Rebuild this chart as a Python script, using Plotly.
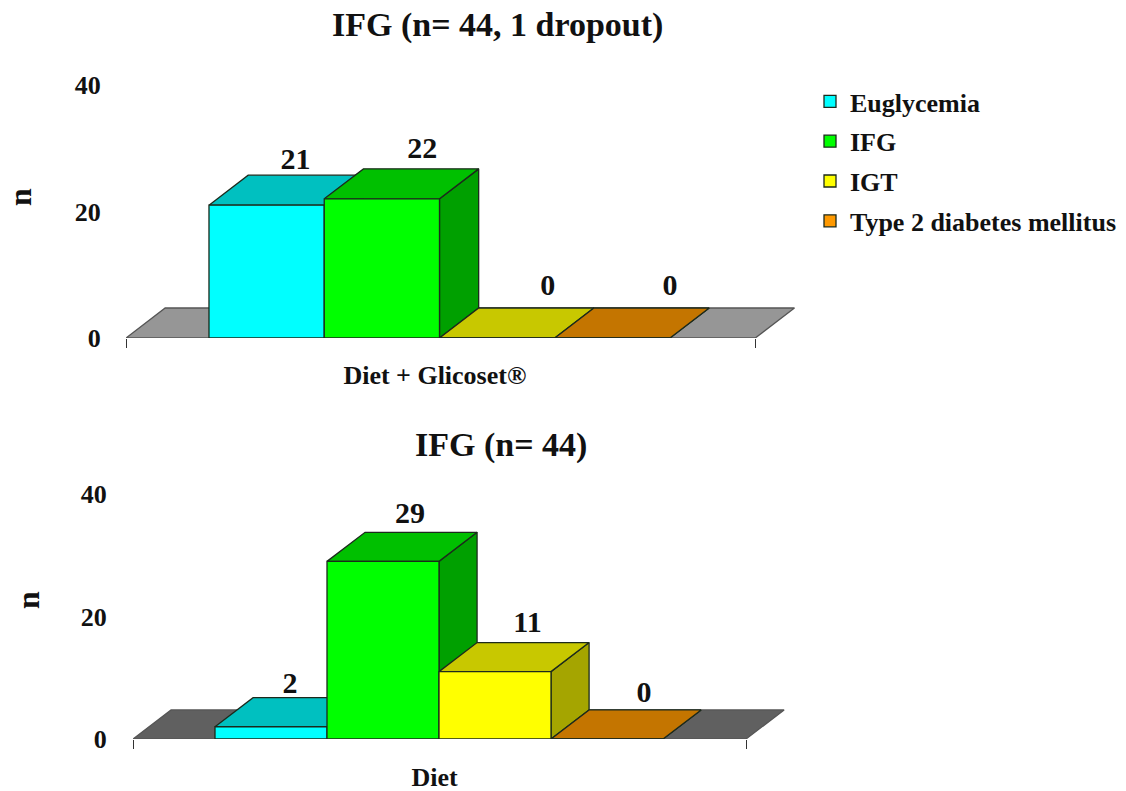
import plotly.graph_objects as go

series_names = ["Euglycemia", "IFG", "IGT", "Type 2 diabetes mellitus"]
glicoset_values = [21, 22, 0, 0]
diet_values = [2, 29, 11, 0]
group_labels = ["Diet + Glicoset®", "Diet"]
panel_titles = ["IFG (n= 44, 1 dropout)", "IFG (n= 44)"]
y_ticks = [0, 20, 40]

front_colors = ["#00FFFF", "#00FF00", "#FFFF00", "#FF9900"]
top_colors = ["#00C0C0", "#00C000", "#C8C800", "#C47500"]
side_colors = ["#00A0A0", "#00A000", "#A5A500", "#9E5E00"]
EDGE = "#1c2a1c"
SERIF = "Liberation Serif"
W, H = 1126, 791
DX, DY = 0.34, 4.74

# per-panel layout: pixel geometry of the axes
panels = [
    dict(values=glicoset_values, floor="#969696", px_left=126, px_right=800, px_top=85, px_bottom=338,
         x_range=[-1.22, 4.628], floor_l=-1.22, floor_r=4.24, group=group_labels[0], title=panel_titles[0],
         title_x=497, title_y=25, lab_dx=[0.25, 0.35, 0.44, 0.50], lab_dy=[2.2, 2.9, 3.3, 3.2],
         cat_x=1.46, cat_len=14, tick_len=19, n_x=20, n_y=197, ids=("x", "y", "x2", "y2")),
    dict(values=diet_values, floor="#606060", px_left=133, px_right=800, px_top=494, px_bottom=739,
         x_range=[-1.232, 4.723], floor_l=-1.232, floor_r=4.241, group=group_labels[1], title=panel_titles[1],
         title_x=501, title_y=445, lab_dx=[0.17, 0.24, 0.29, 0.33], lab_dy=[2.0, 2.8, 2.9, 2.6],
         cat_x=1.46, cat_len=15, tick_len=20, n_x=28, n_y=600, ids=("x3", "y3", "x4", "y4")),
]

fig = go.Figure()
annotations = []
layout_axes = {}


def axname(tid):
    return tid[0] + "axis" + tid[1:]


for pi, p in enumerate(panels):
    xa, ya, xb, yb = p["ids"]
    vals = p["values"]
    # floor
    fig.add_trace(go.Scatter(
        x=[p["floor_l"], p["floor_r"], p["floor_r"] + DX, p["floor_l"] + DX, p["floor_l"]],
        y=[0, 0, DY, DY, 0], mode="lines", fill="toself", fillcolor=p["floor"],
        line=dict(color="#555555", width=1.3), showlegend=False, hoverinfo="skip", xaxis=xa, yaxis=ya))
    # depth faces, painted left to right
    for i, v in enumerate(vals):
        l, r = i - 0.5, i + 0.5
        fig.add_trace(go.Scatter(
            x=[r, r + DX, r + DX, r, r], y=[0, DY, v + DY, v, 0], mode="lines", fill="toself",
            fillcolor=side_colors[i], line=dict(color=EDGE, width=1.3), showlegend=False,
            hoverinfo="skip", xaxis=xa, yaxis=ya))
        fig.add_trace(go.Scatter(
            x=[l, r, r + DX, l + DX, l], y=[v, v, v + DY, v + DY, v], mode="lines", fill="toself",
            fillcolor=top_colors[i], line=dict(color=EDGE, width=1.3), showlegend=False,
            hoverinfo="skip", xaxis=xa, yaxis=ya))
    # front faces: real bars on the overlaying axes
    for i, v in enumerate(vals):
        fig.add_trace(go.Bar(
            x=[i], y=[v], width=1, name=series_names[i], legendgroup=series_names[i],
            showlegend=pi == 0, marker=dict(color=front_colors[i], line=dict(color=EDGE, width=1.3)),
            xaxis=xb, yaxis=yb))
    # value labels
    fig.add_trace(go.Scatter(
        x=[i + p["lab_dx"][i] for i in range(4)],
        y=[v + DY + p["lab_dy"][i] for i, v in enumerate(vals)],
        mode="text", text=["<b>%d</b>" % v for v in vals],
        textfont=dict(family=SERIF, size=30, color="#111111"), textposition="middle center",
        cliponaxis=False, showlegend=False, hoverinfo="skip", xaxis=xb, yaxis=yb))

    xdom = [p["px_left"] / W, p["px_right"] / W]
    ydom = [1 - p["px_bottom"] / H, 1 - p["px_top"] / H]
    layout_axes[axname(xa)] = dict(
        domain=xdom, range=p["x_range"], anchor=ya, showgrid=False, zeroline=False, showline=False,
        tickmode="array", tickvals=[p["floor_l"], p["floor_r"]], ticktext=["", ""],
        ticks="outside", ticklen=9, tickwidth=1.3, tickcolor="#333333", fixedrange=True)
    layout_axes[axname(ya)] = dict(
        domain=ydom, range=[0, 40], anchor=xa, showgrid=False, zeroline=False, showline=False,
        tickmode="array", tickvals=y_ticks, ticks="outside", ticklen=p["tick_len"], tickcolor="rgba(0,0,0,0)",
        tickfont=dict(family=SERIF, size=26, color="#111111", weight="bold"), fixedrange=True)
    layout_axes[axname(xb)] = dict(
        overlaying=xa, range=p["x_range"], anchor=yb, showgrid=False, zeroline=False, showline=False,
        tickmode="array", tickvals=[p["cat_x"]], ticktext=[p["group"]], ticks="outside", ticklen=p["cat_len"],
        tickcolor="rgba(0,0,0,0)", tickfont=dict(family=SERIF, size=26, color="#111111", weight="bold"),
        fixedrange=True)
    layout_axes[axname(yb)] = dict(
        overlaying=ya, range=[0, 40], anchor=xb, showgrid=False, zeroline=False, showline=False,
        showticklabels=False, fixedrange=True)
    annotations.append(dict(
        text="<b>%s</b>" % p["title"], x=p["title_x"] / W, y=1 - p["title_y"] / H, xref="paper", yref="paper",
        xanchor="center", yanchor="middle", showarrow=False, font=dict(family=SERIF, size=34, color="#111111")))
    annotations.append(dict(
        text="<b>n</b>", x=p["n_x"] / W, y=1 - p["n_y"] / H, xref="paper", yref="paper", textangle=-90,
        xanchor="center", yanchor="middle", showarrow=False, font=dict(family=SERIF, size=32, color="#111111")))

fig.update_layout(
    width=W, height=H, autosize=False, margin=dict(l=0, r=0, t=0, b=0, autoexpand=False), paper_bgcolor="white",
    plot_bgcolor="rgba(0,0,0,0)", barmode="overlay", annotations=annotations, hovermode=False,
    legend=dict(x=810 / W, y=1 - 78 / H, xanchor="left", yanchor="top", traceorder="grouped", tracegroupgap=3,
                font=dict(family=SERIF, size=26, color="#111111", weight="bold"), bgcolor="rgba(0,0,0,0)"),
    **layout_axes)

fig.write_html("out.html", config={"displayModeBar": False},
               post_script="document.body.style.margin='0';")
